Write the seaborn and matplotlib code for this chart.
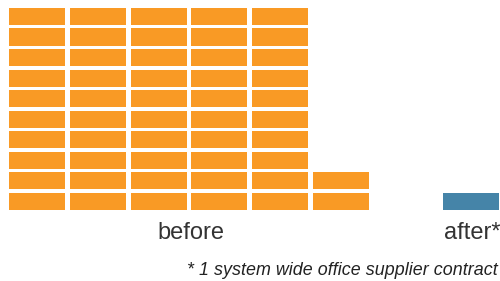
import matplotlib
matplotlib.use("Agg")
import matplotlib.pyplot as plt
import seaborn as sns
import pandas as pd

# ---- data ----
groups = ["before", "after*"]
counts = [52, 1]            # number of contracts (cells)
rows_per_column = 10
colors = ["#F99A25", "#4584A8"]
footnote = "* 1 system wide office supplier contract"

# ---- layout ----
group_start = [0.0, 7.138]  # x of first column of each group
col_width = 0.92
row_height = 0.83

sns.set_theme(style="white")
plt.rcParams["font.family"] = ["Liberation Sans", "DejaVu Sans"]

cells = []
for g, n, start, c in zip(groups, counts, group_start, colors):
    for i in range(n):
        cells.append({"group": g, "x": start + i // rows_per_column,
                      "y": i % rows_per_column, "color": c})
df = pd.DataFrame(cells)

fig = plt.figure(figsize=(5, 2.81), dpi=100)
ax = fig.add_axes([0, 0, 1, 1])
ax.bar(df["x"], row_height, bottom=df["y"], width=col_width,
       color=df["color"], align="center", linewidth=0)

ax.set_xlim(-0.608, 7.616)
ax.set_ylim(-(281 - 210) / 20.56, 210 / 20.56)
ax.axis("off")

ax.text(2.525, -1.415, groups[0], ha="center", va="baseline",
        fontsize=17, color="#333333")
ax.text(group_start[1] - col_width / 2 + 0.017, -1.415, groups[1], ha="left",
        va="baseline", fontsize=17, color="#333333")
ax.text(2.47, -3.17, footnote, ha="left", va="baseline", fontsize=12.9,
        style="italic", color="#222222")

fig.savefig("out.png", dpi=100)
